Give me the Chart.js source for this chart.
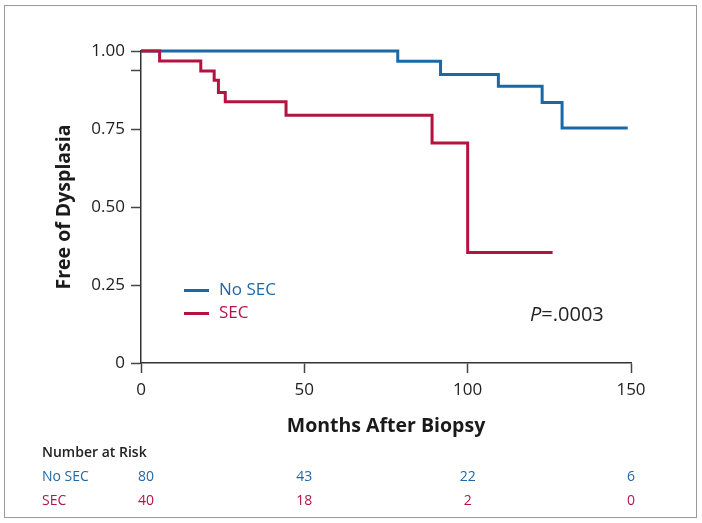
<!DOCTYPE html>
<html><head><meta charset="utf-8">
<script src="https://cdn.jsdelivr.net/npm/chart.js@4"></script>
<style>
html,body{margin:0;padding:0;background:#fff;}
#wrap{position:relative;width:702px;height:523px;}
#frame{position:absolute;left:4px;top:5px;width:693px;height:513px;border:1px solid #9a9a9a;box-sizing:border-box;}
canvas{position:absolute;left:0;top:0;}
</style></head><body>
<div id="wrap"><div id="frame"></div><canvas id="c" width="702" height="523"></canvas></div>
<script>
// Kaplan-Meier step data (months, survival free of dysplasia)
const noSecTimes = [0, 78.6, 91.7, 109.4, 122.8, 128.9, 149];
const noSecSurv  = [1.0, 0.967, 0.925, 0.887, 0.835, 0.753, 0.753];
const secTimes   = [0, 5.7, 18.3, 22.4, 23.7, 25.8, 44.4, 89.1, 100, 126];
const secSurv    = [1.0, 0.968, 0.936, 0.906, 0.867, 0.837, 0.794, 0.705, 0.354, 0.354];
const seriesNames = ['No SEC', 'SEC'];
const xTicks = [0, 50, 100, 150];
const yTicks = [0, 0.25, 0.5, 0.75, 1.0];
const yExtraTicks = [0.936];
const riskNoSec = [80, 43, 22, 6];
const riskSec   = [40, 18, 2, 0];
const pValueLabel = '=.0003';

const BLUE = '#1a69a6', RED = '#b3133f';
const BLUE_T = '#2068a8', RED_T = '#b2154a';
const FONT = "'Open Sans', sans-serif";

const toPts = (t, s) => t.map((v, i) => ({x: v, y: s[i]}));

const overlay = {
  id: 'overlay',
  afterDraw(chart) {
    const ctx = chart.ctx;
    const xs = chart.scales.x;
    ctx.save();
    // legend
    const leg = [[seriesNames[0], BLUE, BLUE_T, 290.5], [seriesNames[1], RED, RED_T, 313.5]];
    ctx.font = '17px ' + FONT;
    ctx.textBaseline = 'middle';
    ctx.textAlign = 'left';
    for (const [name, lc, tc, y] of leg) {
      ctx.strokeStyle = lc; ctx.lineWidth = 3;
      ctx.beginPath(); ctx.moveTo(184, y); ctx.lineTo(209, y); ctx.stroke();
      ctx.fillStyle = tc; ctx.fillText(name, 219, y);
    }
    // p value
    ctx.fillStyle = '#222';
    ctx.font = 'italic 20px ' + FONT;
    ctx.fillText('P', 530, 315);
    const pw = ctx.measureText('P').width;
    ctx.font = '20px ' + FONT;
    ctx.fillText(pValueLabel, 530 + pw, 315);
    // risk table
    ctx.fillStyle = '#222';
    ctx.font = '600 14px ' + FONT;
    ctx.fillText('Number at Risk', 42, 453);
    ctx.font = '14px ' + FONT;
    ctx.fillStyle = BLUE_T; ctx.fillText(seriesNames[0], 42, 477);
    ctx.fillStyle = RED_T;  ctx.fillText(seriesNames[1], 42, 501);
    ctx.textAlign = 'center';
    xTicks.forEach((t, i) => {
      const px = xs.getPixelForValue(t) + (i === 0 ? 5 : 0);
      ctx.fillStyle = BLUE_T; ctx.fillText(String(riskNoSec[i]), px, 477);
      ctx.fillStyle = RED_T;  ctx.fillText(String(riskSec[i]), px, 501);
    });
    ctx.restore();
  }
};

new Chart(document.getElementById('c'), {
  type: 'line',
  data: {
    datasets: [
      {label: seriesNames[0], data: toPts(noSecTimes, noSecSurv), borderColor: BLUE, borderWidth: 3, stepped: 'before', pointRadius: 0, fill: false, clip: false, order: 2},
      {label: seriesNames[1], data: toPts(secTimes, secSurv), borderColor: RED, borderWidth: 3, stepped: 'before', pointRadius: 0, fill: false, clip: false, order: 1}
    ]
  },
  options: {
    responsive: false,
    animation: false,
    events: [],
    layout: {padding: {left: 53, right: 71, top: 51, bottom: 85}},
    plugins: {legend: {display: false}, tooltip: {enabled: false}},
    scales: {
      x: {
        type: 'linear', min: 0, max: 150,
        afterBuildTicks: s => { s.ticks = xTicks.map(v => ({value: v})); },
        afterFit: s => { s.height = 75; },
        grid: {drawOnChartArea: false, drawTicks: true, tickLength: 10, tickColor: '#444', tickWidth: 1.5},
        border: {display: true, color: '#333', width: 1.5},
        ticks: {color: '#222', font: {family: FONT, size: 17}, padding: 7, callback: v => String(v)},
        title: {display: true, text: 'Months After Biopsy', color: '#1a1a1a', font: {family: FONT, size: 19.5, weight: 'bold'}, padding: {top: 0, bottom: 0}}
      },
      y: {
        type: 'linear', min: 0, max: 1,
        afterBuildTicks: s => { s.ticks = yTicks.concat(yExtraTicks).map(v => ({value: v})); },
        afterFit: s => { s.width = 88; },
        grid: {drawOnChartArea: false, drawTicks: true, tickLength: 10, tickColor: '#444', tickWidth: 1.5},
        border: {display: true, color: '#333', width: 1.5},
        ticks: {color: '#222', font: {family: FONT, size: 17}, padding: 6,
          callback: v => yExtraTicks.includes(v) ? '' : (v === 0 ? '0' : v.toFixed(2))},
        title: {display: true, text: 'Free of Dysplasia', color: '#1a1a1a', font: {family: FONT, size: 19.5, weight: 'bold'}, padding: {top: 0, bottom: 0}}
      }
    }
  },
  plugins: [overlay]
});
</script>
</body></html>
